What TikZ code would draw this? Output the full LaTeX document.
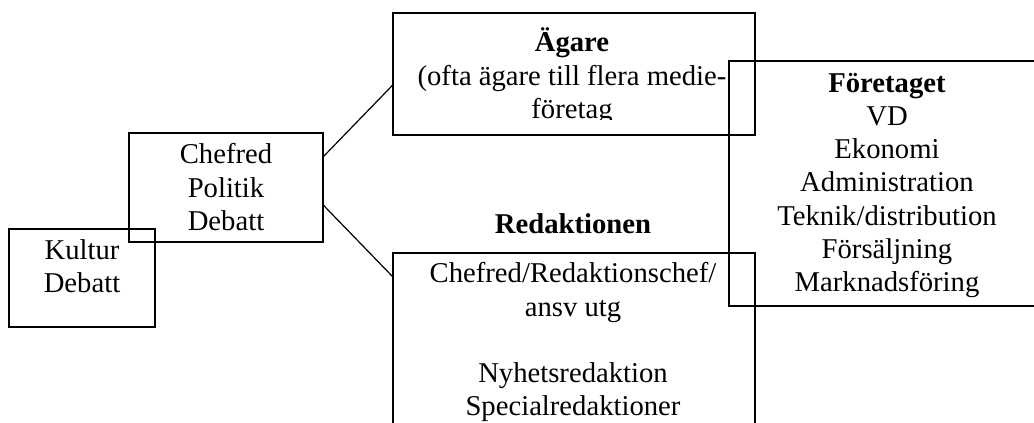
\documentclass[tikz,border=0pt]{standalone}
\usepackage{fontspec}
\setmainfont{Liberation Serif}
\usetikzlibrary{calc,fit}
\begin{document}
\begin{tikzpicture}[x=0.75pt,y=-0.75pt,
  panel/.style={draw=black, line width=0.9pt, rectangle, inner sep=0pt},
  label/.style={font=\fontsize{21.5pt}{24.9pt}\selectfont, align=center,
                inner sep=0pt, anchor=base},
  link/.style={draw=black, line width=0.9pt}]
\useasboundingbox (0,0) rectangle (1034,423);
\clip (0,0) rectangle (1034,423);

% frames
\node[panel, fit={(9,229) (155,327)}]   (kultur)  {};
\node[panel, fit={(129,133) (323,242)}] (chef)    {};
\node[panel, fit={(393,13) (755,135)}]  (agare)   {};
\node[panel, fit={(729,61) (1045,306)}] (foretag) {};
\node[panel, fit={(393,253) (755,470)}] (redak)   {};

% texts (each placed at the baseline of its last line)
\node[label] (kulturtext) at (82,293) {Kultur\\Debatt};
\node[label] (cheftext) at (226,230.4) {Chefred\\Politik\\Debatt};
\begin{scope}
  \clip (393,13) rectangle (755,119.5);
  \node[label] (agaretext) at (572,118.4)
    {\textbf{Ägare}\\(ofta ägare till flera medie-\\företag};
\end{scope}
\node[label] (foretagtext) at (887,291.5)
  {\textbf{Företaget}\\VD\\Ekonomi\\Administration\\Teknik/distribution\\Försäljning\\Marknadsföring};
\node[label] (redaktitle) at (573,234) {\textbf{Redaktionen}};
\node[label] (redaktext) at (573,415.8)
  {Chefred/Redaktionschef/\\ansv utg\\[24.9pt]Nyhetsredaktion\\Specialredaktioner};

% connectors
\draw[link] ($(chef.north east)+(0,24)$) -- ($(agare.north west)+(0,73)$);
\draw[link] ($(chef.north east)+(0,73)$) -- ($(redak.north west)+(0,24)$);
\end{tikzpicture}
\end{document}
